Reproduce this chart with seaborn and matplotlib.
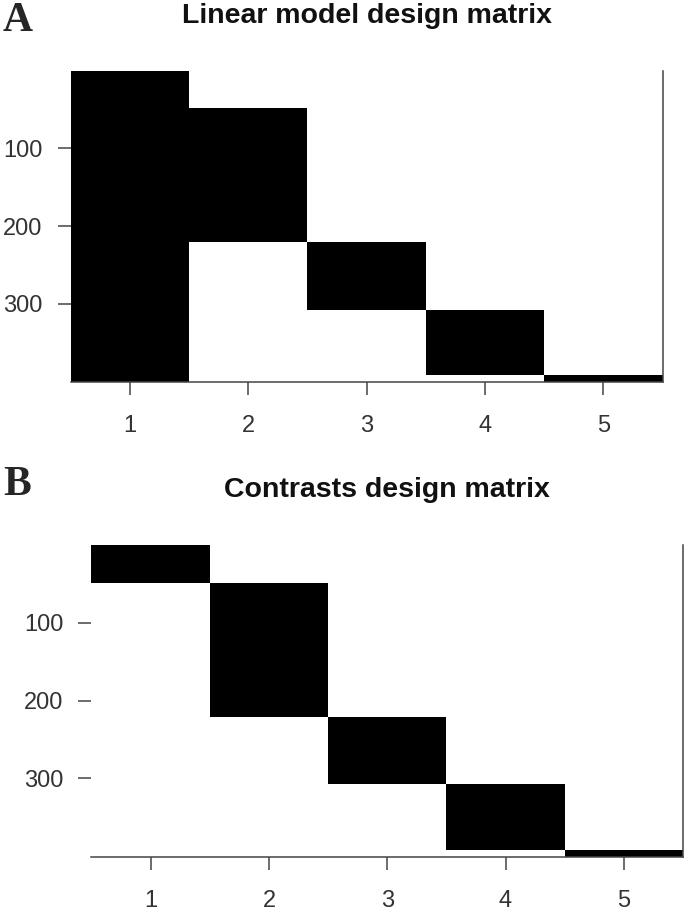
"""
plot.py
───────
Design matrices for a one-way layout with five groups:
    A. linear model (intercept + treatment dummies)
    B. contrasts (one indicator column per group)
Saves out.png
"""

import numpy as np
import pandas as pd
import matplotlib
matplotlib.use("Agg")
import matplotlib.pyplot as plt
from matplotlib.colors import ListedColormap
import seaborn as sns

# ── Data ──────────────────────────────────────────────────────────────────────
GROUP_SIZES  = [48, 173, 87, 84, 9]        # rows per group
COLUMN_NAMES = ["1", "2", "3", "4", "5"]
Y_TICKS      = [100, 200, 300]
TITLES       = ["Linear model design matrix", "Contrasts design matrix"]
PANEL_TAGS   = ["A", "B"]

# ── Build matrices ────────────────────────────────────────────────────────────
group = np.repeat(np.arange(len(GROUP_SIZES)), GROUP_SIZES)
contrasts = pd.DataFrame(
    (group[:, None] == np.arange(len(GROUP_SIZES))[None, :]).astype(int),
    columns=COLUMN_NAMES,
)
linear = contrasts.copy()
linear["1"] = 1            # intercept column replaces the first group dummy

# ── Style ─────────────────────────────────────────────────────────────────────
sns.set_style("white")
plt.rcParams["font.family"] = ["Liberation Sans", "DejaVu Sans"]
GREY_LINE = "#444444"
GREY_TEXT = "#333333"
bw = ListedColormap(["white", "black"])

W, H = 685, 911
fig = plt.figure(figsize=(W / 100, H / 100), dpi=100)

# axes boxes in pixels: left, top, right, bottom
boxes = [(70.8, 70.8, 662.5, 382.3), (91.5, 545.3, 683.0, 856.7)]
tag_y = [31, 495]

for mat, title, tag, (l, t, r, b), ty in zip(
        [linear, contrasts], TITLES, PANEL_TAGS, boxes, tag_y):
    ax = fig.add_axes([l / W, 1 - b / H, (r - l) / W, (b - t) / H])
    sns.heatmap(mat, cmap=bw, vmin=0, vmax=1, cbar=False, ax=ax,
                xticklabels=COLUMN_NAMES, yticklabels=False)

    ax.set_yticks(Y_TICKS)
    ax.set_yticklabels([str(v) for v in Y_TICKS], rotation=0)
    ax.set_xticklabels(COLUMN_NAMES, rotation=0)

    for side in ["bottom", "right"]:
        ax.spines[side].set_visible(True)
        ax.spines[side].set_color(GREY_LINE)
        ax.spines[side].set_linewidth(1.1)
    ax.spines["left"].set_visible(False)
    ax.spines["top"].set_visible(False)

    ax.tick_params(axis="both", direction="out", length=9.4, width=1.1,
                   color=GREY_LINE, labelcolor=GREY_TEXT, labelsize=17)
    ax.tick_params(axis="x", pad=14.5, bottom=True)
    ax.tick_params(axis="y", pad=11, left=True)

    ax.set_title(title, fontsize=20.5, fontweight="bold", color="#111111", pad=34.5)

    fig.text(3 / W, 1 - ty / H, tag, fontsize=30, fontweight="bold",
             family="Liberation Serif", ha="left", va="baseline")

fig.savefig("out.png", dpi=100)
plt.close(fig)
